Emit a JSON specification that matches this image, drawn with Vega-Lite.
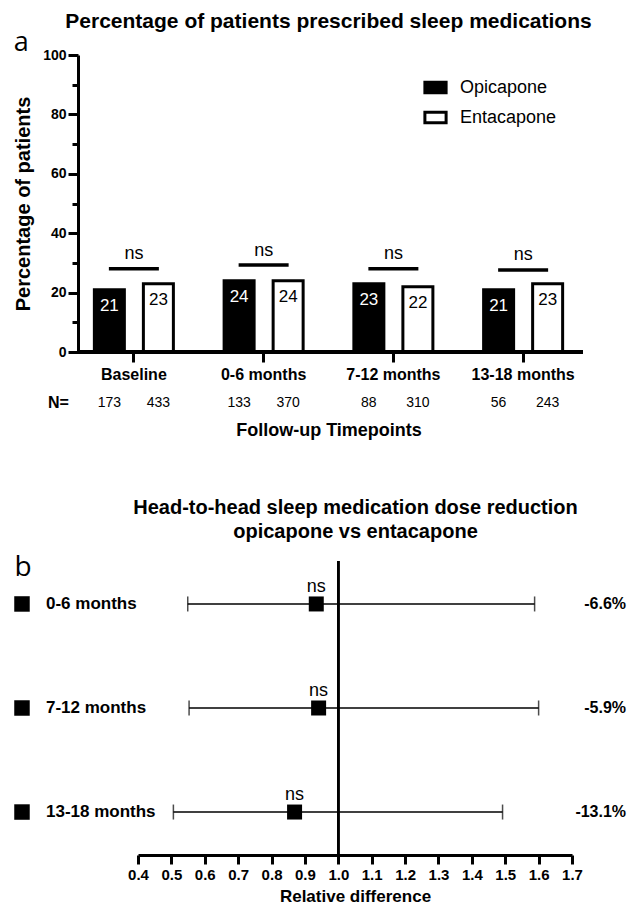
{
  "$schema": "https://vega.github.io/schema/vega-lite/v6.json",
  "background": "white",
  "padding": {"left": 13, "top": 11, "right": 3, "bottom": 5},
  "spacing": 58,
  "columns": 1,
  "config": {
    "font": "Liberation Sans",
    "view": {"stroke": null},
    "axis": {"domainColor": "black", "tickColor": "black", "labelColor": "black", "titleColor": "black", "grid": false},
    "title": {"color": "black"},
    "legend": {"labelColor": "black"}
  },
  "concat": [
    {
      "width": 519,
      "height": 297,
      "title": {"text": "Percentage of patients prescribed sleep medications", "fontSize": 21, "fontWeight": "bold", "anchor": "middle", "offset": -3},
      "data": {"values": [
        {"period": "Baseline", "group": "Opicapone", "pct": 21, "n": 173},
        {"period": "Baseline", "group": "Entacapone", "pct": 23, "n": 433},
        {"period": "0-6 months", "group": "Opicapone", "pct": 24, "n": 133},
        {"period": "0-6 months", "group": "Entacapone", "pct": 24, "n": 370},
        {"period": "7-12 months", "group": "Opicapone", "pct": 23, "n": 88},
        {"period": "7-12 months", "group": "Entacapone", "pct": 22, "n": 310},
        {"period": "13-18 months", "group": "Opicapone", "pct": 21, "n": 56},
        {"period": "13-18 months", "group": "Entacapone", "pct": 23, "n": 243}
      ]},
      "layer": [
        {
          "mark": {"type": "bar", "stroke": "black", "strokeWidth": 3},
          "encoding": {
            "x": {"field": "period", "type": "nominal", "sort": ["Baseline", "0-6 months", "7-12 months", "13-18 months"],
                  "scale": {"paddingInner": 0, "paddingOuter": 0},
                  "axis": {"title": "Follow-up Timepoints", "titleFontSize": 18, "titleFontWeight": "bold", "titlePadding": 39,
                           "labelFontSize": 16, "labelFontWeight": "bold", "labelAngle": 0, "labelPadding": 4,
                           "tickSize": 10, "tickWidth": 3, "domain": false}},
            "xOffset": {"field": "group", "type": "nominal", "sort": ["Opicapone", "Entacapone"],
                        "scale": {"paddingInner": 0.388, "paddingOuter": 0.5175}},
            "y": {"field": "pct", "type": "quantitative",
                  "scale": {"domain": [0, 100], "nice": false},
                  "axis": {"values": [0, 10, 20, 30, 40, 50, 60, 70, 80, 90, 100], "tickCount": 11, "offset": -9,
                           "title": "Percentage of patients", "titleFontSize": 20, "titleFontWeight": "bold", "titlePadding": 9,
                           "labelExpr": "datum.value % 20 == 0 ? datum.label : ''",
                           "labelFontSize": 14, "labelFontWeight": "bold", "labelPadding": 2,
                           "tickSize": {"condition": {"test": "datum.value % 20 != 0", "value": 6}, "value": 10},
                           "tickWidth": 3, "domainWidth": 3}},
            "fill": {"field": "group", "type": "nominal", "sort": ["Opicapone", "Entacapone"],
                     "scale": {"domain": ["Opicapone", "Entacapone"], "range": ["black", "white"]},
                     "legend": {"title": null, "orient": "none", "legendX": 354, "legendY": 20, "padding": 0,
                                "symbolType": "M-1,-0.5H1V0.5H-1Z", "symbolSize": 450, "symbolStrokeWidth": 3,
                                "symbolStrokeColor": "black", "labelFontSize": 18, "labelOffset": 12, "rowPadding": 6}}
          }
        },
        {
          "mark": {"type": "rule", "strokeWidth": 3, "color": "black"},
          "encoding": {
            "x": {"datum": "Baseline", "type": "nominal", "bandPosition": 0.069},
            "x2": {"datum": "13-18 months", "bandPosition": 0.961},
            "y": {"datum": 0, "type": "quantitative"}
          }
        },
        {
          "mark": {"type": "text", "fontSize": 17, "baseline": "middle", "dy": 16},
          "encoding": {
            "x": {"field": "period", "type": "nominal", "sort": ["Baseline", "0-6 months", "7-12 months", "13-18 months"]},
            "xOffset": {"field": "group", "type": "nominal", "sort": ["Opicapone", "Entacapone"]},
            "y": {"field": "pct", "type": "quantitative"},
            "text": {"field": "pct"},
            "color": {"condition": {"test": "datum.group == 'Opicapone'", "value": "white"}, "value": "black"}
          }
        },
        {
          "mark": {"type": "text", "fontSize": 14, "baseline": "middle", "color": "black"},
          "encoding": {
            "x": {"field": "period", "type": "nominal", "sort": ["Baseline", "0-6 months", "7-12 months", "13-18 months"]},
            "xOffset": {"field": "group", "type": "nominal", "sort": ["Opicapone", "Entacapone"]},
            "y": {"datum": -17.2, "type": "quantitative"},
            "text": {"field": "n"}
          }
        },
        {
          "transform": [{"filter": "datum.period == 'Baseline' && datum.group == 'Opicapone'"}],
          "mark": {"type": "text", "fontSize": 16, "fontWeight": "bold", "baseline": "middle", "align": "center", "dx": -51, "color": "black"},
          "encoding": {
            "x": {"field": "period", "type": "nominal", "sort": ["Baseline", "0-6 months", "7-12 months", "13-18 months"]},
            "xOffset": {"field": "group", "type": "nominal", "sort": ["Opicapone", "Entacapone"]},
            "y": {"datum": -17.2, "type": "quantitative"},
            "text": {"value": "N="}
          }
        },
        {
          "transform": [{"filter": "datum.period == 'Baseline' && datum.group == 'Opicapone'"}],
          "mark": {"type": "text", "font": "Open Sans", "fontSize": 27, "baseline": "middle", "align": "center", "dx": -88, "color": "black"},
          "encoding": {
            "x": {"field": "period", "type": "nominal", "sort": ["Baseline", "0-6 months", "7-12 months", "13-18 months"]},
            "xOffset": {"field": "group", "type": "nominal", "sort": ["Opicapone", "Entacapone"]},
            "y": {"datum": 104, "type": "quantitative"},
            "text": {"value": "a"}
          }
        },
        {
          "data": {"values": [
            {"period": "Baseline", "bracket": 28.0, "label_y": 33.0, "sig": "ns"},
            {"period": "0-6 months", "bracket": 29.3, "label_y": 34.0, "sig": "ns"},
            {"period": "7-12 months", "bracket": 28.0, "label_y": 33.0, "sig": "ns"},
            {"period": "13-18 months", "bracket": 27.6, "label_y": 32.8, "sig": "ns"}
          ]},
          "layer": [
            {
              "mark": {"type": "tick", "size": 50, "thickness": 3.5, "color": "black", "opacity": 1},
              "encoding": {
                "x": {"field": "period", "type": "nominal", "sort": ["Baseline", "0-6 months", "7-12 months", "13-18 months"]},
                "y": {"field": "bracket", "type": "quantitative"}
              }
            },
            {
              "mark": {"type": "text", "fontSize": 18, "baseline": "middle", "color": "black"},
              "encoding": {
                "x": {"field": "period", "type": "nominal", "sort": ["Baseline", "0-6 months", "7-12 months", "13-18 months"]},
                "y": {"field": "label_y", "type": "quantitative"},
                "text": {"field": "sig"}
              }
            }
          ]
        }
      ]
    },
    {
      "width": 503,
      "height": 294,
      "title": {"text": ["Head-to-head sleep medication dose reduction", "opicapone vs entacapone"], "fontSize": 20, "fontWeight": "bold", "lineHeight": 24, "anchor": "middle", "offset": 12, "dx": 35},
      "data": {"values": [
        {"period": "0-6 months", "est": 0.934, "lo": 0.549, "hi": 1.588, "diff": "-6.6%", "sig": "ns"},
        {"period": "7-12 months", "est": 0.941, "lo": 0.553, "hi": 1.600, "diff": "-5.9%", "sig": "ns"},
        {"period": "13-18 months", "est": 0.869, "lo": 0.506, "hi": 1.492, "diff": "-13.1%", "sig": "ns"}
      ]},
      "layer": [
        {
          "mark": {"type": "errorbar", "ticks": {"size": 15, "thickness": 1.5, "color": "black"}, "rule": {"strokeWidth": 1.5, "color": "black"}},
          "encoding": {
            "x": {"field": "lo", "type": "quantitative", "title": "Relative difference",
                  "scale": {"domain": [0.4, 1.7], "range": [69, 503], "nice": false, "zero": false},
                  "axis": {"values": [0.4, 0.5, 0.6, 0.7, 0.8, 0.9, 1.0, 1.1, 1.2, 1.3, 1.4, 1.5, 1.6, 1.7], "tickCount": 14, "format": ".1f",
                           "title": "Relative difference", "titleFontSize": 17, "titleFontWeight": "bold", "titlePadding": 6,
                           "labelFontSize": 15, "labelFontWeight": "bold", "labelPadding": 3, "labelOverlap": false, "labelFlush": false,
                           "tickSize": 9, "tickWidth": 3, "domainWidth": 3}},
            "x2": {"field": "hi"},
            "y": {"field": "period", "type": "nominal", "sort": ["0-6 months", "7-12 months", "13-18 months"], "scale": {"type": "point", "padding": 0.413}, "axis": null}
          }
        },
        {
          "mark": {"type": "rule", "strokeWidth": 2.5, "color": "black"},
          "encoding": {
            "x": {"datum": 1, "type": "quantitative"}
          }
        },
        {
          "mark": {"type": "square", "size": 225, "filled": true, "color": "black", "opacity": 1},
          "encoding": {
            "x": {"field": "est", "type": "quantitative", "title": "Relative difference"},
            "y": {"field": "period", "type": "nominal", "sort": ["0-6 months", "7-12 months", "13-18 months"]}
          }
        },
        {
          "mark": {"type": "text", "fontSize": 18, "baseline": "middle", "dy": -17, "color": "black"},
          "encoding": {
            "x": {"field": "est", "type": "quantitative", "title": "Relative difference"},
            "y": {"field": "period", "type": "nominal", "sort": ["0-6 months", "7-12 months", "13-18 months"]},
            "text": {"field": "sig"}
          }
        },
        {
          "mark": {"type": "square", "size": 240, "filled": true, "color": "black", "opacity": 1},
          "encoding": {
            "x": {"datum": 0.0525, "type": "quantitative"},
            "y": {"field": "period", "type": "nominal", "sort": ["0-6 months", "7-12 months", "13-18 months"]}
          }
        },
        {
          "mark": {"type": "text", "fontSize": 17, "fontWeight": "bold", "align": "left", "baseline": "middle", "color": "black"},
          "encoding": {
            "x": {"datum": 0.1244, "type": "quantitative"},
            "y": {"field": "period", "type": "nominal", "sort": ["0-6 months", "7-12 months", "13-18 months"]},
            "text": {"field": "period"}
          }
        },
        {
          "mark": {"type": "text", "fontSize": 16, "fontWeight": "bold", "align": "right", "baseline": "middle", "color": "black"},
          "encoding": {
            "x": {"datum": 1.862, "type": "quantitative"},
            "y": {"field": "period", "type": "nominal", "sort": ["0-6 months", "7-12 months", "13-18 months"]},
            "text": {"field": "diff"}
          }
        },
        {
          "transform": [{"filter": "datum.period == '0-6 months'"}],
          "mark": {"type": "text", "font": "Open Sans", "fontSize": 28, "align": "center", "baseline": "middle", "dy": -36, "color": "black"},
          "encoding": {
            "x": {"datum": 0.0555, "type": "quantitative"},
            "y": {"field": "period", "type": "nominal", "sort": ["0-6 months", "7-12 months", "13-18 months"]},
            "text": {"value": "b"}
          }
        }
      ]
    }
  ]
}
